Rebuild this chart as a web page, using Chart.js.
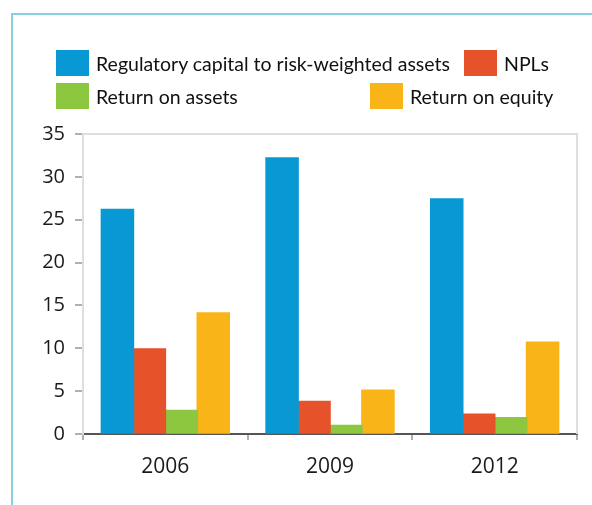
<!DOCTYPE html>
<html>
<head>
<meta charset="utf-8">
<script src="https://cdn.jsdelivr.net/npm/chart.js@4"></script>
<style>
  html, body { margin: 0; padding: 0; background: #fff; }
  #wrap { position: relative; width: 592px; height: 505px; overflow: hidden; }
  #frame { position: absolute; left: 11px; top: 13px; width: 600px; height: 600px;
           border-top: 2px solid #86d0e2; border-left: 2px solid #86d0e2; box-sizing: border-box; }
  #cv { position: absolute; left: 0; top: 0; }
  .lg { position: absolute; display: flex; align-items: center; font-family: Lato, sans-serif;
        font-size: 19.5px; color: #111; white-space: nowrap; height: 26px; }
  .lg span.box { display: inline-block; width: 33px; height: 26px; margin-right: 7px; }
</style>
</head>
<body>
<div id="wrap">
  <div id="frame"></div>
  <canvas id="cv" width="592" height="505"></canvas>
  <div id="legend"></div>
</div>
<script>
const categories = ['2006', '2009', '2012'];
const seriesNames = ['Regulatory capital to risk-weighted assets', 'NPLs', 'Return on assets', 'Return on equity'];
const capitalRatio = [26.2, 32.2, 27.4];
const npls = [9.9, 3.8, 2.3];
const returnOnAssets = [2.75, 1.0, 1.9];
const returnOnEquity = [14.1, 5.1, 10.7];
const yTicks = [0, 5, 10, 15, 20, 25, 30, 35];
const colors = ['#0899d5', '#e6532a', '#8dc63f', '#f9b418'];

const seriesValues = [capitalRatio, npls, returnOnAssets, returnOnEquity];

// HTML legend
const legendPos = [[56, 50], [464, 50], [56, 83], [370, 83]];
const legendEl = document.getElementById('legend');
seriesNames.forEach((name, i) => {
  const d = document.createElement('div');
  d.className = 'lg';
  d.style.left = legendPos[i][0] + 'px';
  d.style.top = legendPos[i][1] + 'px';
  const b = document.createElement('span');
  b.className = 'box';
  b.style.background = colors[i];
  d.appendChild(b);
  d.appendChild(document.createTextNode(name));
  legendEl.appendChild(d);
});

const frameLines = {
  id: 'frameLines',
  afterDatasetsDraw(chart) {
    const { ctx, chartArea: a } = chart;
    ctx.save();
    ctx.strokeStyle = '#dedede';
    ctx.lineWidth = 2;
    ctx.beginPath();
    ctx.moveTo(a.left, a.top);
    ctx.lineTo(a.right, a.top);
    ctx.lineTo(a.right, a.bottom);
    ctx.stroke();
    ctx.restore();
  }
};

new Chart(document.getElementById('cv'), {
  type: 'bar',
  data: {
    labels: categories,
    datasets: seriesNames.map((n, i) => ({
      label: n,
      data: seriesValues[i],
      backgroundColor: colors[i],
      borderWidth: 0,
      inflateAmount: 0.8,
      categoryPercentage: 0.776,
      barPercentage: 1.0
    }))
  },
  options: {
    responsive: false,
    animation: false,
    layout: { padding: { left: 0, right: 15, top: 134, bottom: 0 } },
    plugins: { legend: { display: false }, tooltip: { enabled: false } },
    scales: {
      x: {
        grid: { drawOnChartArea: false, tickLength: 6, color: '#b0b0b0', lineWidth: 2 },
        border: { color: '#555555', width: 2 },
        ticks: { color: '#1a1a1a', font: { family: "'Open Sans', sans-serif", size: 21 }, padding: 14 },
        afterFit(s) { s.height = 71; }
      },
      y: {
        min: 0, max: 35,
        afterBuildTicks(s) { s.ticks = yTicks.map(v => ({ value: v })); },
        grid: { drawOnChartArea: false, tickLength: 8, color: '#b0b0b0', lineWidth: 2 },
        border: { color: '#dedede', width: 2 },
        ticks: { color: '#1a1a1a', font: { family: "'Open Sans', sans-serif", size: 20 }, padding: 10 },
        afterFit(s) { s.width = 83; }
      }
    }
  },
  plugins: [frameLines]
});
</script>
</body>
</html>
